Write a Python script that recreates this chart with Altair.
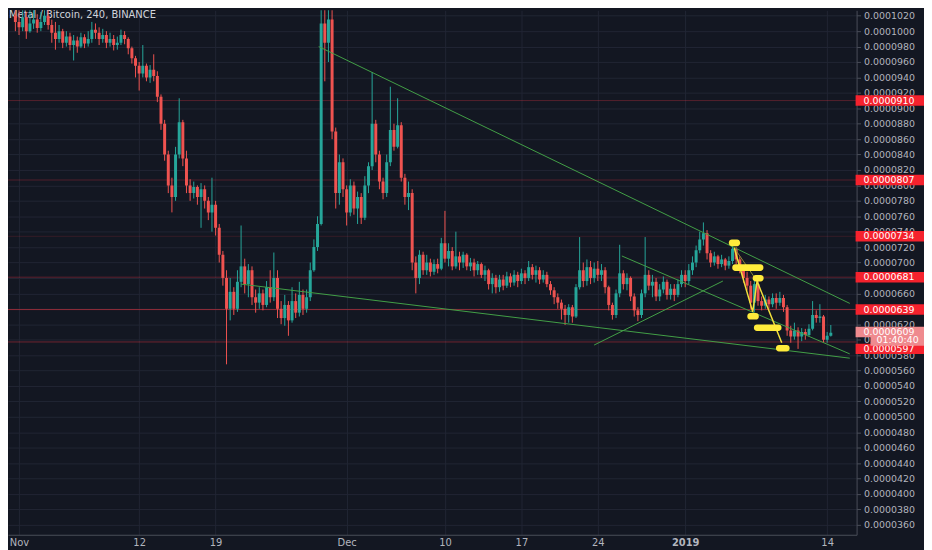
import altair as alt
import pandas as pd

title_text = "Metal / Bitcoin, 240, BINANCE"

# 8-hour candles, prices in units of 1e-7 BTC; candle k opens at day k/3 after Nov 1 (k = -1 .. 223)
first_open = 1020
closes = [
    1012, 1005, 1018, 1000, 1010, 1015, 1004, 1012, 1020, 1008, 998,
    990, 1000, 985, 993, 982, 988, 980, 992, 984, 990,
    1002, 998, 990, 995, 985, 990, 982, 985, 995, 990,
    978, 965, 955, 945, 955, 940, 950, 942, 915, 880,
    840, 800, 785, 840, 882, 835, 800, 790, 798, 785,
    795, 780, 765, 775, 745, 710, 680, 640, 662, 640,
    675, 695, 672, 690, 655, 648, 660, 645, 668, 655,
    680, 640, 628, 645, 625, 650, 635, 658, 640, 655,
    690, 720, 750, 1010, 985, 1015, 870, 790, 830, 795,
    765, 800, 770, 785, 758, 800, 825, 880, 840, 805,
    790, 830, 872, 850, 878, 810, 785, 790, 700, 680,
    710, 690, 700, 688, 698, 692, 725, 705, 715, 695,
    708, 700, 710, 695, 700, 690, 698, 684, 690, 672,
    680, 668, 678, 670, 682, 674, 684, 676, 686, 680,
    694, 684, 690, 678, 684, 672, 664, 655, 648, 640,
    632, 642, 630, 668, 690, 676, 694, 680, 692, 684,
    690, 668, 645, 632, 660, 686, 672, 680, 656, 638,
    632, 660, 684, 670, 675, 656, 665, 675, 658, 666,
    658, 672, 684, 676, 690, 700, 716, 730, 738, 712,
    700, 708, 698, 704, 696, 702, 718, 704, 692, 680,
    670, 648, 672, 650, 644, 652, 646, 654, 648, 654,
    642, 612, 604, 612, 604, 610, 606, 614, 632, 628,
    630, 600, 605, 609,
]
highs = [
    1030, 1030, 1032, 1025, 1028, 1030, 1022, 1025, 1034, 1030, 1015,
    1012, 1008, 1003, 1000, 998, 995, 993, 998, 996, 1000,
    1012, 1010, 1005, 1003, 1000, 998, 995, 993, 1002, 1000,
    992, 980, 968, 960, 982, 958, 956, 970, 948, 918,
    885, 845, 810, 850, 913, 885, 845, 808, 805, 800,
    803, 800, 785, 810, 780, 750, 715, 690, 680, 668,
    690, 748, 705, 698, 695, 665, 668, 665, 676, 690,
    713, 690, 650, 658, 650, 668, 660, 675, 665, 665,
    700, 730, 760, 1040, 1045, 1045, 1035, 875, 840, 835,
    800, 808, 805, 792, 790, 812, 830, 947, 885, 845,
    810, 840, 928, 880, 913, 882, 815, 805, 795, 708,
    716, 714, 710, 705, 704, 705, 732, 767, 725, 720,
    740, 714, 714, 712, 706, 705, 702, 700, 696, 692,
    686, 684, 684, 684, 688, 686, 690, 688, 692, 690,
    702, 698, 696, 694, 690, 688, 676, 668, 660, 652,
    645, 646, 645, 672, 733, 700, 704, 702, 700, 702,
    698, 694, 670, 648, 665, 723, 690, 686, 682, 660,
    642, 665, 733, 690, 684, 680, 672, 682, 678, 672,
    672, 678, 690, 690, 698, 708, 722, 740, 752, 742,
    716, 714, 710, 710, 706, 708, 722, 720, 708, 696,
    688, 676, 678, 676, 656, 658, 656, 660, 660, 662,
    658, 645, 618, 622, 616, 615, 614, 620, 650, 638,
    646, 632, 610, 619,
]
lows = [
    1000, 995, 1000, 990, 998, 1003, 998, 1000, 1008, 1002, 985,
    976, 985, 978, 980, 975, 962, 972, 978, 978, 980,
    985, 990, 982, 985, 978, 980, 975, 976, 982, 983,
    970, 958, 940, 923, 940, 935, 933, 935, 908, 872,
    832, 790, 765, 780, 835, 825, 790, 780, 783, 775,
    745, 770, 755, 740, 735, 700, 670, 568, 625, 632,
    636, 668, 660, 655, 645, 635, 640, 638, 642, 648,
    650, 628, 620, 618, 605, 622, 628, 630, 632, 635,
    650, 688, 715, 748, 935, 960, 860, 770, 775, 785,
    748, 760, 762, 750, 750, 755, 790, 820, 830, 795,
    782, 785, 825, 845, 848, 805, 775, 768, 690, 660,
    672, 684, 684, 682, 684, 686, 690, 700, 695, 690,
    692, 690, 693, 690, 689, 682, 684, 680, 676, 665,
    660, 660, 662, 664, 667, 668, 670, 668, 672, 672,
    676, 678, 674, 672, 674, 668, 658, 646, 640, 626,
    619, 622, 622, 628, 665, 668, 670, 672, 674, 676,
    676, 660, 638, 626, 628, 655, 665, 664, 650, 630,
    624, 628, 655, 664, 655, 650, 650, 660, 652, 652,
    650, 655, 668, 668, 672, 684, 694, 712, 722, 704,
    694, 696, 692, 694, 690, 692, 698, 698, 686, 674,
    664, 640, 636, 644, 638, 640, 640, 642, 640, 644,
    636, 605, 596, 600, 588, 598, 600, 604, 612, 622,
    622, 596, 596, 604,
]
assert len(closes) == len(highs) == len(lows)

tick_days = [0, 11, 18, 30, 39, 46, 53, 61, 74]
tick_labels = ["Nov", "12", "19", "Dec", "10", "17", "24", "2019", "14"]
price_ticks = list(range(360, 1021, 20))

line_levels = [910, 807, 734, 681, 639, 597]
line_alpha = [0.3, 0.28, 0.16, 0.35, 0.55, 0.42]

label_values = [910, 807, 734, 681, 639, 609, 597]
label_pos = [910, 807, 734, 681, 639, 610, 588]
label_fill = ["#f5222d", "#f5222d", "#f5222d", "#f5222d", "#f5222d", "#ef8a8e", "#f5222d"]
countdown_text = "01:40:40"
countdown_pos = [599]

green_x1 = [27.44, 20.33, 52.66, 55.2]
green_y1 = [980, 672, 593, 708.5]
green_x2 = [76.07, 76.07, 64.45, 76.07]
green_y2 = [647, 576, 676, 581.5]

zig_x = [65.49, 67.18, 67.58, 69.84]
zig_y = [719, 636, 676, 596]

box_x1 = [65.0, 65.31, 67.18, 66.69, 67.29, 69.31]
box_x2 = [66.02, 68.16, 68.18, 67.74, 69.82, 70.56]
box_y1 = [730, 697.7, 683.8, 634.4, 619.6, 593]
box_y2 = [721.1, 688.9, 675.3, 626, 611.3, 584.7]

TEAL = "#26a69a"
RED = "#ef5350"
BG = "#131722"
GRID = "#212534"
AXIS = "#4a4e59"
TXT = "#b2b5be"

# ---------- data frames ----------
opens = [first_open] + closes[:-1]
candles = pd.DataFrame({
    "d": [(i - 1) / 3 for i in range(len(closes))],
    "o": opens,
    "c": closes,
    "h": [max(h, o, c) for h, o, c in zip(highs, opens, closes)],
    "l": [min(l, o, c) for l, o, c in zip(lows, opens, closes)],
})
levels = pd.DataFrame({"lvl": line_levels, "a": line_alpha})
labels = pd.DataFrame({
    "pos": label_pos,
    "fill": label_fill,
    "label": [f"{v / 1e7:.7f}" for v in label_values],
})
countdown = pd.DataFrame({"pos": countdown_pos, "label": [countdown_text]})
greens = pd.DataFrame({"x1": green_x1, "y1": green_y1, "x2": green_x2, "y2": green_y2})
zig = pd.DataFrame({"x": zig_x, "y": zig_y, "i": list(range(len(zig_x)))})
zig_ac = pd.DataFrame({"x1": [zig_x[0]], "y1": [zig_y[0]], "x2": [zig_x[2]], "y2": [zig_y[2]]})
boxes = pd.DataFrame({"x1": box_x1, "x2": box_x2, "y1": box_y1, "y2": box_y2})
title_df = pd.DataFrame({"t": [title_text]})

# ---------- scales / axes ----------
x_scale = alt.Scale(domain=[-0.556, 76.24], nice=False, zero=False)
y_scale = alt.Scale(domain=[347, 1027], nice=False, zero=False)

x_label_expr = " : ".join(f"datum.value == {d} ? '{l}'" for d, l in zip(tick_days, tick_labels)) + " : ''"
x_axis = alt.Axis(
    values=tick_days, labelExpr=x_label_expr, title=None, grid=True, gridColor=GRID,
    domainColor=AXIS, ticks=False, labelColor=TXT, labelFontSize=10, labelFont="DejaVu Sans",
    labelPadding=3, labelOverlap=False, labelFlush=False,
    labelFontWeight={"condition": {"test": "datum.value == 61", "value": "bold"}, "value": "normal"},
)
y_axis = alt.Axis(
    orient="right", values=price_ticks, labelExpr="format(datum.value / 10000000, '.7f')",
    title=None, grid=True, gridColor=GRID, domainColor=AXIS, tickColor=AXIS, tickSize=4,
    labelColor=TXT, labelFontSize=9.5, labelFont="DejaVu Sans", labelPadding=3,
    labelOverlap=False, labelFlush=False,
)


def X(f):
    return alt.X(f, type="quantitative", scale=x_scale, axis=x_axis)


def Y(f):
    return alt.Y(f, type="quantitative", scale=y_scale, axis=y_axis)


up_color = alt.condition("datum.c >= datum.o", alt.value(TEAL), alt.value(RED))

title_layer = alt.Chart(title_df).mark_text(
    align="left", baseline="top", fontSize=10, font="DejaVu Sans", color="#d1d4dc"
).encode(x=alt.value(1), y=alt.value(0), text="t:N")

level_layer = alt.Chart(levels).mark_rule(color="#f23645", strokeWidth=1, clip=True).encode(
    y=Y("lvl"), opacity=alt.Opacity("a:Q", scale=None)
)

wick_layer = alt.Chart(candles).mark_rule(strokeWidth=1, clip=True).encode(
    x=X("d"), y=Y("l"), y2=alt.Y2("h"), color=up_color
)
body_layer = alt.Chart(candles).mark_bar(size=3.0, clip=True).encode(
    x=X("d"), y=Y("o"), y2=alt.Y2("c"), color=up_color
)

green_layer = alt.Chart(greens).mark_rule(color="#43a047", strokeWidth=1, clip=True).encode(
    x=X("x1"), y=Y("y1"), x2=alt.X2("x2"), y2=alt.Y2("y2")
)

zig_ac_layer = alt.Chart(zig_ac).mark_rule(color="#8d8a3a", strokeWidth=1, clip=True).encode(
    x=X("x1"), y=Y("y1"), x2=alt.X2("x2"), y2=alt.Y2("y2")
)
zig_layer = alt.Chart(zig).mark_line(color="#f2e03c", strokeWidth=1.5, clip=True).encode(
    x=X("x"), y=Y("y"), order="i:O"
)
box_layer = alt.Chart(boxes).mark_rect(color="#ffeb3b", cornerRadius=3, clip=True).encode(
    x=X("x1"), x2=alt.X2("x2"), y=Y("y1"), y2=alt.Y2("y2")
)

label_box_layer = alt.Chart(labels).mark_rule(strokeWidth=10.5, strokeCap="butt").encode(
    x=alt.value(855), x2=alt.value(924), y=Y("pos"), color=alt.Color("fill:N", scale=None)
)
label_text_layer = alt.Chart(labels).mark_text(
    align="left", baseline="middle", fontSize=9.5, font="DejaVu Sans", color="white"
).encode(x=alt.value(863), y=Y("pos"), text="label:N")

cd_box_layer = alt.Chart(countdown).mark_rule(strokeWidth=10.5, strokeCap="butt", color="#ef8a8e").encode(
    x=alt.value(870), x2=alt.value(924), y=Y("pos")
)
cd_text_layer = alt.Chart(countdown).mark_text(
    align="left", baseline="middle", fontSize=9.5, font="DejaVu Sans", color="white"
).encode(x=alt.value(876), y=Y("pos"), text="label:N")

chart = alt.layer(
    title_layer, level_layer, wick_layer, body_layer, green_layer,
    zig_ac_layer, zig_layer, box_layer,
    label_box_layer, label_text_layer, cd_box_layer, cd_text_layer,
).properties(
    width=856, height=529,
    padding={"left": 0, "top": 0, "right": 68, "bottom": 13},
    autosize=alt.AutoSizeParams(type="none"),
).configure(background=BG).configure_view(strokeWidth=0)

chart.save("out.html", embed_options={"renderer": "svg", "actions": False})
